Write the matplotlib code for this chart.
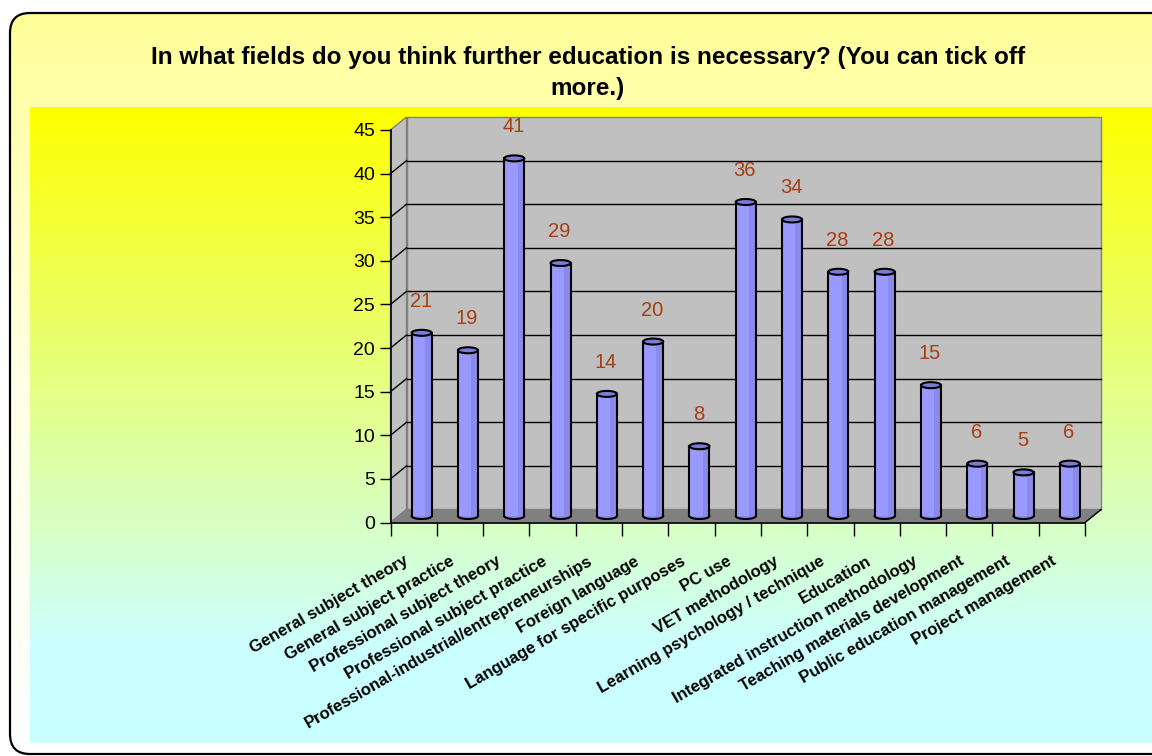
import numpy as np
import matplotlib
matplotlib.use('Agg')
import matplotlib.pyplot as plt
from matplotlib.patches import Rectangle, Polygon, Ellipse, FancyBboxPatch
from matplotlib.colors import LinearSegmentedColormap
from matplotlib.transforms import ScaledTranslation

plt.rcParams['font.family'] = ['Liberation Sans', 'DejaVu Sans']

# Dados da pesquisa
titulo = 'In what fields do you think further education is necessary? (You can tick off\nmore.)'
categorias = [
    'General subject theory',
    'General subject practice',
    'Professional subject theory',
    'Professional subject practice',
    'Professional-industrial/entrepreneurships',
    'Foreign language',
    'Language for specific purposes',
    'PC use',
    'VET methodology',
    'Learning psychology / technique',
    'Education',
    'Integrated instruction methodology',
    'Teaching materials development',
    'Public education management',
    'Project management',
]
valores = [21, 19, 41, 29, 14, 20, 8, 36, 34, 28, 28, 15, 6, 5, 6]
y_ticks = list(range(0, 50, 5))

W, H = 1152, 756
fig = plt.figure(figsize=(W / 100, H / 100), dpi=100)

# Fundo: moldura arredondada e retângulo em degradê
bg = fig.add_axes([0, 0, 1, 1])
bg.set_xlim(0, W)
bg.set_ylim(H, 0)
bg.axis('off')

moldura = FancyBboxPatch((10, 13), W + 40, 741, boxstyle='round,pad=0,rounding_size=20',
                         fc='none', ec='black', lw=1.6, zorder=3)
bg.add_patch(moldura)
cm_moldura = LinearSegmentedColormap.from_list('m', ['#FFFF99', '#FFFFE6', '#FFFFFF'])
img = bg.imshow(np.linspace(0, 1, 256).reshape(-1, 1), cmap=cm_moldura, aspect='auto',
                extent=(10, W + 50, 754, 13), zorder=1)
img.set_clip_path(moldura)

cm_fundo = LinearSegmentedColormap.from_list('f', [(0, '#FFFF00'), (0.85, '#CCFFFF'), (1, '#C8FFFF')])
bg.imshow(np.linspace(0, 1, 256).reshape(-1, 1), cmap=cm_fundo, aspect='auto',
          extent=(30, W, 743, 107), zorder=2)

fig.text(588 / W, 1 - 73 / H, titulo, ha='center', va='center', fontsize=17.5,
         fontweight='bold', linespacing=1.45)

# Eixo principal (plano frontal do gráfico 3D)
ax = fig.add_axes([390.5 / W, 1 - 522.5 / H, 694.5 / W, 392.5 / H])
ax.set_xlim(0, len(categorias))
ax.set_ylim(0, 45)
ax.patch.set_visible(False)
for s in ax.spines.values():
    s.set_visible(False)

px_x = 694.5 / len(categorias)
px_y = 392.5 / 45
dx, dy = 16 / px_x, 13 / px_y  # profundidade em unidades de dados
n = len(categorias)

# Paredes e piso
ax.add_patch(Rectangle((dx, dy), n, 45, fc='#C0C0C0', ec='#808080', lw=1, zorder=1, clip_on=False))
ax.add_patch(Polygon([(0, 0), (dx, dy), (dx, 45 + dy), (0, 45)], closed=True,
                     fc='#C0C0C0', ec='#808080', lw=1, zorder=1, clip_on=False))
ax.add_patch(Polygon([(0, 0), (n, 0), (n + dx, dy), (dx, dy)], closed=True,
                     fc='#808080', ec='#808080', lw=1, zorder=1, clip_on=False))

for v in y_ticks[1:-1]:
    ax.plot([dx, n + dx], [v + dy, v + dy], color='black', lw=1, zorder=2, clip_on=False)
    ax.plot([0, dx], [v, v + dy], color='black', lw=1, zorder=2, clip_on=False)

# Linhas dos eixos
ax.plot([0, 0], [0, 45], color='black', lw=1.2, zorder=5, clip_on=False)
ax.plot([0, n], [0, 0], color='black', lw=1.2, zorder=5, clip_on=False)
ax.plot([n, n + dx], [0, dy], color='black', lw=1, zorder=5, clip_on=False)

# Cilindros
larg = 20 / px_x
elip = 6 / px_y
for i, v in enumerate(valores):
    cx = i + 0.5 + dx / 2
    base = dy / 2
    topo = v + dy / 2
    z = 10 + i
    ax.add_patch(Ellipse((cx, base), larg, elip, fc='#8A8AEA', ec='black', lw=1.5, zorder=z, clip_on=False))
    ax.add_patch(Rectangle((cx - larg / 2, base), larg, v, fc='#9999FF', ec='none', zorder=z, clip_on=False))
    ax.add_patch(Rectangle((cx + larg / 6, base), larg / 3, v, fc='#8A8AEA', ec='none', zorder=z, clip_on=False))
    ax.plot([cx - larg / 2, cx - larg / 2], [base, topo], color='black', lw=1.5, zorder=z, clip_on=False)
    ax.plot([cx + larg / 2, cx + larg / 2], [base, topo], color='black', lw=1.5, zorder=z, clip_on=False)
    ax.add_patch(Ellipse((cx, topo), larg, elip, fc='#7B7BD8', ec='black', lw=1.5, zorder=z, clip_on=False))
    ax.annotate(str(v), (i + 0.5, v), xytext=(7, 38), textcoords='offset pixels',
                ha='center', va='center', fontsize=14.5, color='#A83C12', zorder=30,
                annotation_clip=False)

# Marcas e rótulos
ax.set_yticks(y_ticks)
ax.set_yticklabels([str(t) for t in y_ticks], fontsize=14)
ax.tick_params(axis='y', length=8, width=1, pad=3, color='black')
ax.set_xticks(range(n + 1))
ax.set_xticklabels([])
ax.tick_params(axis='x', which='major', length=9, width=1, color='black')
ax.set_xticks(np.arange(n) + 0.5, minor=True)
ax.set_xticklabels(categorias, minor=True, rotation=30, ha='right', va='center',
                   rotation_mode='anchor', fontsize=12, fontweight='bold')
ax.tick_params(axis='x', which='minor', length=0, pad=27)
desloc = ScaledTranslation(-0.07, 0, fig.dpi_scale_trans)
for lbl in ax.get_xticklabels(minor=True):
    lbl.set_transform(lbl.get_transform() + desloc)

fig.savefig('out.png', dpi=100)
